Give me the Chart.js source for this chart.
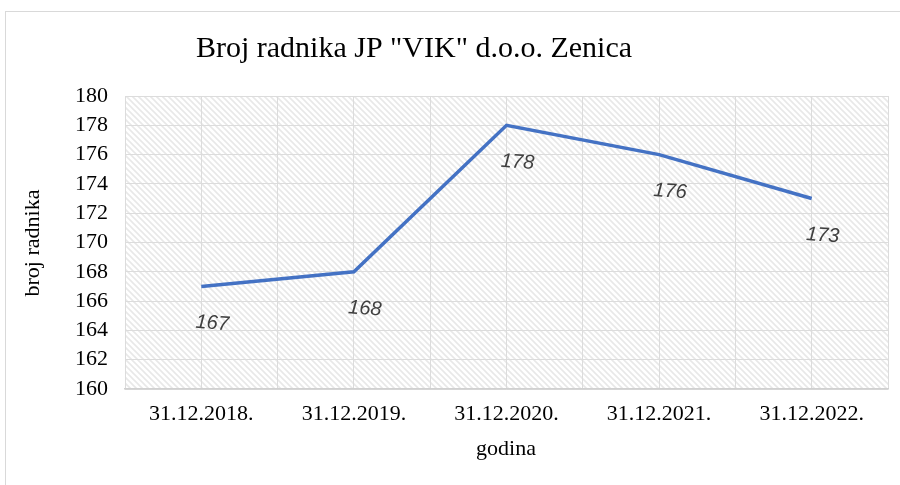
<!DOCTYPE html>
<html>
<head>
<meta charset="utf-8">
<script src="https://cdn.jsdelivr.net/npm/chart.js@4/dist/chart.umd.min.js"></script>
<style>
  html, body { margin: 0; padding: 0; background: #fff; }
  #wrap { width: 900px; height: 485px; }
</style>
</head>
<body>
<div id="wrap"><canvas id="c" width="900" height="485"></canvas></div>
<script>
// podaci
const godine = ['31.12.2018.', '31.12.2019.', '31.12.2020.', '31.12.2021.', '31.12.2022.'];
const radnici = [167, 168, 178, 176, 173];
const yMin = 160, yMax = 180, yStep = 2;

const serif = '"Liberation Serif", "Times New Roman", serif';

// srafura za pozadinu plot area
function makeHatch() {
    const p = document.createElement('canvas');
    p.width = 6; p.height = 6;
    const g = p.getContext('2d');
    g.fillStyle = '#ffffff';
    g.fillRect(0, 0, 6, 6);
    g.strokeStyle = '#e8e8e8';
    g.lineWidth = 1.6;
    g.beginPath();
    g.moveTo(-1, -1); g.lineTo(7, 7);
    g.moveTo(-1, 5); g.lineTo(1, 7);
    g.moveTo(5, -1); g.lineTo(7, 1);
    g.stroke();
    return g.createPattern(p, 'repeat');
}

const decor = {
    id: 'decor',
    beforeDraw(chart) {
        const { ctx, chartArea: a } = chart;
        ctx.save();
        // okvir
        ctx.strokeStyle = '#d9d9d9';
        ctx.lineWidth = 1;
        ctx.strokeRect(5.5, 11.5, 1000, 600);
        // pozadina
        ctx.fillStyle = makeHatch();
        ctx.fillRect(a.left, a.top, a.right - a.left, a.bottom - a.top);
        ctx.restore();
    },
    afterDraw(chart) {
        const { ctx } = chart;
        ctx.save();
        ctx.fillStyle = '#000';
        ctx.textAlign = 'center';
        ctx.textBaseline = 'alphabetic';
        ctx.font = '30px ' + serif;
        ctx.fillText('Broj radnika JP "VIK" d.o.o. Zenica', 414, 57);
        ctx.font = '22px ' + serif;
        ctx.fillText('godina', 506, 455);
        ctx.translate(39, 243);
        ctx.rotate(-Math.PI / 2);
        ctx.fillText('broj radnika', 0, 0);
        ctx.restore();

        // oznake vrijednosti
        const meta = chart.getDatasetMeta(0);
        ctx.save();
        ctx.fillStyle = '#404040';
        ctx.font = 'italic 20px "Liberation Sans", Arial, sans-serif';
        ctx.textAlign = 'center';
        ctx.textBaseline = 'middle';
        meta.data.forEach((pt, i) => {
            ctx.save();
            ctx.translate(pt.x + 11, pt.y + 37);
            ctx.rotate(4 * Math.PI / 180);
            ctx.fillText(String(radnici[i]), 0, 0);
            ctx.restore();
        });
        ctx.restore();
    }
};

new Chart(document.getElementById('c'), {
    type: 'line',
    data: {
        datasets: [{
            data: radnici.map((v, i) => ({ x: i, y: v })),
            borderColor: '#4472c4',
            borderWidth: 3.5,
            pointRadius: 0,
            tension: 0,
            fill: false
        }]
    },
    options: {
        responsive: false,
        animation: false,
        layout: { padding: { top: 96, right: 12, bottom: 0, left: 0 } },
        plugins: {
            legend: { display: false },
            tooltip: { enabled: false }
        },
        scales: {
            x: {
                type: 'linear',
                min: -0.5,
                max: godine.length - 0.5,
                afterFit(s) { s.height = 96; },
                afterBuildTicks(s) {
                    const t = [];
                    for (let v = -0.5; v <= godine.length - 0.5 + 1e-9; v += 0.5) t.push({ value: v });
                    s.ticks = t;
                },
                grid: { color: '#dcdcdc', lineWidth: 1, drawTicks: false },
                border: { color: '#d0d0d0', width: 1.5 },
                ticks: {
                    padding: 12,
                    color: '#000',
                    maxRotation: 0,
                    autoSkip: false,
                    font: { family: serif, size: 22 },
                    callback: v => Number.isInteger(v) ? godine[v] : ''
                }
            },
            y: {
                min: yMin,
                max: yMax,
                afterFit(s) { s.width = 125; },
                grid: { color: '#dcdcdc', lineWidth: 1, drawTicks: false },
                border: { display: false },
                ticks: {
                    stepSize: yStep,
                    autoSkip: false,
                    padding: 17,
                    color: '#000',
                    font: { family: serif, size: 22 }
                }
            }
        }
    },
    plugins: [decor]
});
</script>
</body>
</html>
